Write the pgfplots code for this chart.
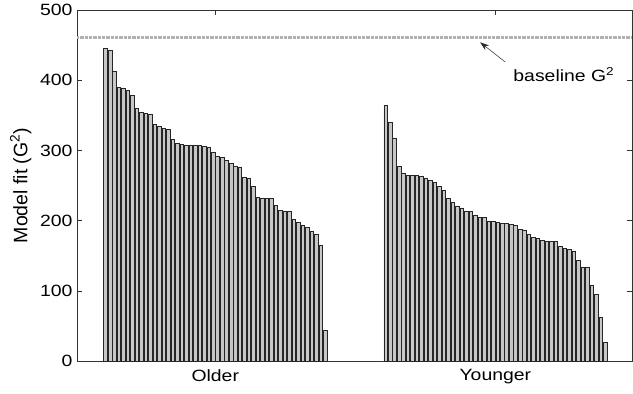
\documentclass[border=0pt]{standalone}
\usepackage{fontspec}
\setmainfont{Liberation Sans}[FakeStretch=1.19]
\newfontfamily\plainfont{Liberation Sans}
\usepackage{pgfplots}
\usepackage{pgfplotstable}
\pgfplotsset{compat=1.18}
\usetikzlibrary{arrows.meta}
\newcommand{\bigfont}{\fontsize{16.3}{19}\selectfont}

\pgfplotstableread{
x y
1 445
2 443
3 413
4 390
5 389
6 385
7 378
8 360
9 355
10 353
11 352
12 337
13 334
14 332
15 330
16 316
17 310
18 309
19 308
20 308
21 308
22 307
23 306
24 305
25 298
26 291
27 290
28 286
29 281
30 277
31 276
32 262
33 261
34 249
35 233
36 232
37 232
38 232
39 222
40 215
41 214
42 213
43 202
44 197
45 194
46 190
47 185
48 181
49 165
50 44
}\older

\pgfplotstableread{
x y
63.5 364
64.5 340
65.5 318
66.5 278
67.5 268
68.5 265
69.5 264
70.5 264
71.5 263
72.5 261
73.5 257
74.5 254
75.5 249
76.5 243
77.5 232
78.5 226
79.5 221
80.5 218
81.5 214
82.5 213
83.5 207
84.5 205
85.5 205
86.5 199
87.5 199
88.5 198
89.5 196
90.5 196
91.5 195
92.5 193
93.5 187
94.5 186
95.5 180
96.5 176
97.5 175
98.5 172
99.5 170
100.5 170
101.5 170
102.5 163
103.5 160
104.5 159
105.5 157
106.5 143
107.5 134
108.5 134
109.5 108
110.5 95
111.5 63
112.5 27
}\younger

\begin{document}
\begin{tikzpicture}
\begin{axis}[
  scale only axis, width=555pt, height=351pt,
  xmin=-5.36, xmax=118.5, ymin=0, ymax=500,
  ytick={0,100,200,300,400,500},
  xtick={25.5,88}, xticklabels={Older,Younger},
  tick align=inside, major tick length=5pt,
  tick style={black!80, line width=0.5pt},
  axis line style={black!80, line width=0.6pt},
  tick label style={font=\bigfont},
  yticklabel style={xshift=-1pt},
  xticklabel style={yshift=-5pt},
  /pgf/number format/assume math mode=true,
  ylabel={\plainfont\fontsize{19.5}{22}\selectfont Model fit (G\textsuperscript{2})},
  ylabel style={at={(axis description cs:-0.082,0.5)}, anchor=south, inner sep=0pt},
  clip=false,
]
\addplot[no marks, draw=black!30, line width=2.6pt, dash pattern=on 0.7pt off 0.6pt]
  coordinates {(-5.36,461) (118.5,461)};
\addplot[ybar, bar width=0.8, fill=black!22, draw=black!85, line width=0.5pt] table[x=x,y=y] {\older};
\addplot[ybar, bar width=0.8, fill=black!22, draw=black!85, line width=0.5pt] table[x=x,y=y] {\younger};
\draw[-{Stealth[length=9pt,width=6pt]}, black!85, line width=0.5pt]
  (axis cs:90.2,426) -- (axis cs:84.6,454);
\node[anchor=west, inner sep=0pt, font=\bigfont] at (axis cs:92,408) {baseline G\textsuperscript{2}};
\end{axis}
\pgfresetboundingbox
\path ([xshift=-77pt,yshift=-33pt]current axis.south west) rectangle ([xshift=1pt,yshift=10pt]current axis.north east);
\end{tikzpicture}
\end{document}
